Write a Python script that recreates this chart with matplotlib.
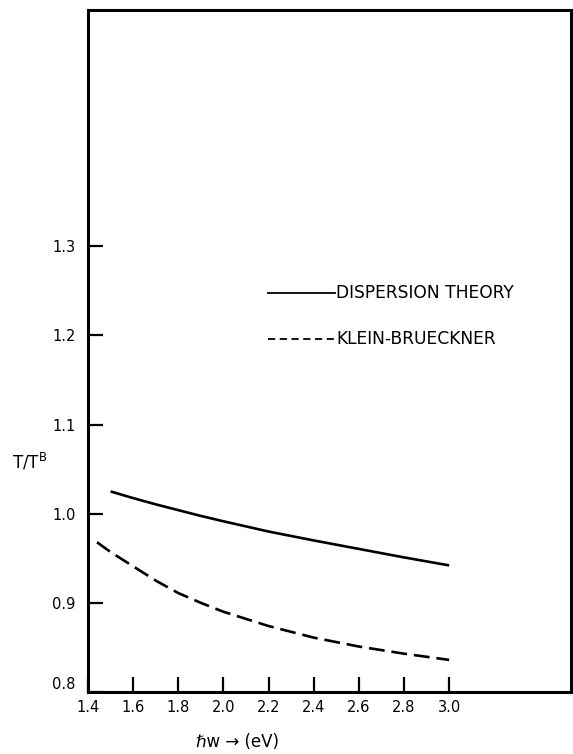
import numpy as np
import matplotlib
matplotlib.use('Agg')
import matplotlib.pyplot as plt
from matplotlib.lines import Line2D

# photon energy (eV) and transmission ratio T/T^B
disp_x = [1.5, 1.6, 1.7, 1.8, 1.9, 2.0, 2.2, 2.4, 2.6, 2.8, 3.0]
disp_y = [1.025, 1.0175, 1.0105, 1.004, 0.9975, 0.9915, 0.980, 0.970, 0.9605, 0.951, 0.942]

kb_x = [1.44, 1.5, 1.6, 1.7, 1.8, 1.9, 2.0, 2.2, 2.4, 2.6, 2.8, 3.0]
kb_y = [0.968, 0.957, 0.941, 0.925, 0.911, 0.900, 0.890, 0.874, 0.861, 0.851, 0.843, 0.836]

x_ticks = [1.4, 1.6, 1.8, 2.0, 2.2, 2.4, 2.6, 2.8, 3.0]
y_ticks = [0.8, 0.9, 1.0, 1.1, 1.2, 1.3]
labels = ['DISPERSION THEORY', 'KLEIN-BRUECKNER']

plt.rcParams['font.family'] = ['DejaVu Sans']
plt.rcParams['mathtext.fontset'] = 'dejavusans'

fig = plt.figure(figsize=(5.73, 7.54), dpi=100)
ax = fig.add_axes([88 / 573, 1 - 692 / 754, 483 / 573, 682 / 754])

ax.plot(disp_x, disp_y, color='black', lw=1.9, solid_capstyle='butt',
        solid_joinstyle='round')
ax.plot(kb_x, kb_y, color='black', lw=1.9, linestyle=(0, (6, 2.6)))

ax.set_xlim(1.4, 3.54)
ax.set_ylim(0.8, 1.565)

ax.set_xticks(x_ticks)
ax.set_xticklabels([f'{v:.1f}' for v in x_ticks], fontsize=10.5)
ax.set_yticks(y_ticks)
ax.set_yticklabels([f'{v:.1f}' for v in y_ticks], fontsize=10.5)
ax.tick_params(axis='both', direction='in', length=11, width=1.6, color='black')
ax.tick_params(axis='y', pad=9)
ax.tick_params(axis='x', pad=6)
for lbl in ax.get_yticklabels():
    if lbl.get_text() == '0.8':
        lbl.set_verticalalignment('bottom')

for s in ax.spines.values():
    s.set_linewidth(2.2)

# hand-drawn key inside the plot
ax.add_line(Line2D([0.373, 0.511], [0.585, 0.585], transform=ax.transAxes,
                   color='black', lw=1.3))
ax.add_line(Line2D([0.373, 0.511], [0.5176, 0.5176], transform=ax.transAxes,
                   color='black', lw=1.3, linestyle=(0, (4, 2.5))))
ax.text(0.514, 0.585, labels[0], transform=ax.transAxes, fontsize=12.3,
        va='center', ha='left')
ax.text(0.514, 0.5176, labels[1], transform=ax.transAxes, fontsize=12.3,
        va='center', ha='left')

fig.text(12 / 573, 1 - 462 / 754, r'T/T$^{\mathrm{B}}$', fontsize=12,
         ha='left', va='center')
fig.text(237 / 573, 1 - 742 / 754, 'ℏw → (eV)', fontsize=12,
         ha='center', va='center')

fig.savefig('out.png', dpi=100, facecolor='white')
